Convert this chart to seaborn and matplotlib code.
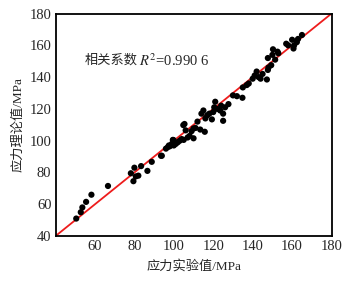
"""Scatter of theoretical vs experimental stress with y = x reference line."""

import matplotlib.pyplot as plt
import pandas as pd
import seaborn as sns
from matplotlib.ticker import MultipleLocator

# Experimental (x) and theoretical (y) stress values, MPa
stress_exp = [
    50.5, 52.8, 53.6, 55.5, 58.2, 66.6,
    78.2, 79.5, 80.0, 80.7, 82.0, 83.4, 86.6, 88.8, 93.5, 93.9,
    96.0, 97.0, 97.5, 98.0, 99.0, 99.5, 99.8, 100.0, 100.5, 101.0, 102.0, 103.0, 104.0, 105.0,
    104.8, 105.4, 106.0, 107.0, 108.0, 109.0, 110.0, 110.0, 111.0, 112.0, 113.4, 114.0,
    115.0, 115.7, 116.0, 117.0, 118.0, 119.3, 120.0, 120.5, 121.0, 122.0, 123.5, 124.0,
    125.0, 125.0, 126.0, 127.7, 130.0, 132.0, 134.8, 135.0, 137.0, 138.0, 140.0, 141.0,
    142.0, 143.0, 144.0, 145.0, 147.2, 147.7, 148.0, 147.7, 149.4, 150.0, 150.3, 151.4,
    152.6, 153.0, 157.0, 158.0, 160.0, 160.7, 161.0, 162.4, 163.0, 165.0,
]
stress_theory = [
    51.0, 55.0, 58.0, 61.5, 66.0, 71.5,
    79.5, 74.5, 83.0, 77.5, 78.0, 84.0, 81.0, 86.7, 90.5, 90.5,
    95.0, 96.0, 97.0, 96.5, 98.0, 100.5, 100.4, 97.0, 99.0, 98.0, 99.0, 100.0, 101.0, 100.5,
    109.8, 110.5, 106.5, 102.0, 103.0, 106.0, 101.5, 107.7, 108.0, 112.0, 107.0, 117.0,
    119.0, 105.6, 114.0, 116.0, 117.0, 113.4, 118.0, 121.0, 124.5, 120.0, 119.0, 122.0,
    112.5, 117.0, 121.0, 123.0, 128.5, 128.0, 127.0, 133.5, 135.0, 136.0, 139.0, 141.0,
    143.5, 140.0, 139.0, 142.0, 138.5, 144.5, 146.0, 152.0, 147.5, 154.0, 157.5, 151.0,
    156.0, 155.0, 161.0, 160.0, 163.5, 158.0, 160.0, 162.0, 164.0, 166.5,
]
ref_line = [40, 180]

df = pd.DataFrame({"exp": stress_exp, "theory": stress_theory})

sns.set_style("white")
plt.rcParams["font.family"] = ["Liberation Serif", "Noto Sans CJK SC"]
plt.rcParams["mathtext.fontset"] = "stix"

fig = plt.figure(figsize=(3.45, 2.82), dpi=100)
ax = fig.add_axes([0.161, 0.163, 0.800, 0.789])

sns.lineplot(x=ref_line, y=ref_line, color="#ee1c1c", linewidth=1.3, ax=ax, zorder=1)
sns.scatterplot(
    data=df, x="exp", y="theory", color="black", s=20, edgecolor="none", ax=ax, zorder=2
)

ax.set_xlim(40, 180)
ax.set_ylim(40, 180)
ax.xaxis.set_major_locator(MultipleLocator(20))
ax.yaxis.set_major_locator(MultipleLocator(20))
ax.xaxis.set_minor_locator(MultipleLocator(10))
ax.yaxis.set_minor_locator(MultipleLocator(10))
ax.tick_params(which="major", direction="in", length=4, width=1, labelsize=10.5, pad=3)
ax.tick_params(which="minor", direction="in", length=2.5, width=1)
ax.set_xticks(range(40, 181, 20))
ax.set_xticklabels([""] + [str(v) for v in range(60, 181, 20)])

for spine in ax.spines.values():
    spine.set_linewidth(1.3)
    spine.set_color("black")

ax.set_xlabel("应力实验值/MPa", fontsize=9.5, labelpad=5)
ax.set_ylabel("应力理论值/MPa", fontsize=9.5, labelpad=4)
ax.text(55, 150.5, "相关系数", fontsize=9.5, va="center", ha="left")
ax.text(82.5, 150.5, "$R^2$=0.990 6", fontsize=10.5, va="center", ha="left")

plt.savefig("out.png", dpi=100)
plt.close()
